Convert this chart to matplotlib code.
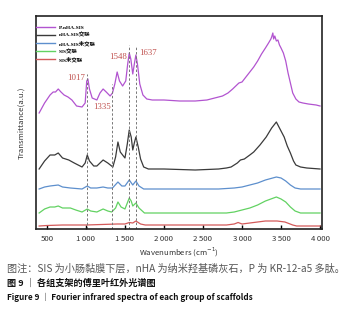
import matplotlib
matplotlib.use("Agg")
import matplotlib.pyplot as plt
from matplotlib.ticker import FixedLocator, FuncFormatter

# ---------------- data ----------------
labels = ["P-nHA-SIS", "nHA-SIS交联", "nHA-SIS未交联", "SIS交联", "SIS未交联"]
colors = ["#b254d0", "#3a3a3a", "#5d8fcd", "#62d262", "#d35a5a"]

w_purple = [400, 470, 540, 580, 610, 645, 680, 720, 770, 820, 880, 950, 990, 1010, 1025, 1045,
            1080, 1140, 1180, 1220, 1260, 1310, 1340, 1370, 1400, 1430, 1470, 1510, 1535, 1555,
            1575, 1600, 1620, 1640, 1660, 1690, 1730, 1780, 1850, 2000, 2200, 2400, 2550, 2650,
            2750, 2820, 2880, 2920, 2960, 3000, 3050, 3100, 3150, 3200, 3250, 3300, 3340, 3370,
            3380, 3395, 3405, 3420, 3440, 3460, 3480, 3500, 3530, 3560, 3590, 3620, 3650, 3690,
            3730, 3780, 3850, 3950, 4000]
v_purple = [116, 126, 134, 137, 137, 140, 137, 134, 132, 129, 123, 122, 126, 148, 150, 140,
            131, 129, 136, 140, 137, 133, 136, 145, 157, 148, 143, 148, 165, 176,
            170, 155, 165, 174, 165, 145, 134, 130, 129, 129, 128, 128, 129, 131,
            133, 136, 140, 143, 146, 147, 152, 157, 162, 168, 175, 181, 186, 190,
            192, 196, 190, 193, 188, 189, 184, 181, 176, 168, 156, 146, 136, 130,
            127, 126, 125, 124, 123]

w_black = [400, 470, 540, 600, 645, 700, 780, 850, 950, 990, 1017, 1045, 1100, 1140, 1220, 1280,
           1345, 1380, 1410, 1440, 1500, 1530, 1555, 1580, 1600, 1620, 1640, 1670, 1700, 1740,
           1800, 2000, 2400, 2700, 2800, 2860, 2940, 2980, 3030, 3100, 3150, 3230, 3310, 3380,
           3420, 3440, 3460, 3500, 3540, 3580, 3620, 3660, 3690, 3750, 3830, 4000]
v_black = [60, 68, 74, 74, 76, 71, 69, 66, 62, 66, 74, 68, 63, 63, 69, 66,
           62, 72, 87, 77, 71, 85, 99, 92, 79, 86, 92, 82, 70, 62,
           60, 60, 59, 60, 61, 62, 66, 69, 70, 74, 77, 84, 92, 101,
           105, 107, 104, 98, 92, 83, 76, 68, 64, 62, 61, 60]

w_blue = [400, 470, 540, 645, 700, 800, 950, 1017, 1060, 1140, 1220, 1280, 1340, 1410, 1460, 1500,
          1555, 1600, 1640, 1680, 1740, 2000, 2700, 2900, 3000, 3100, 3200, 3300, 3440, 3500,
          3560, 3620, 3680, 3750, 4000]
v_blue = [40, 42, 43, 44, 42, 41, 40, 43, 41, 41, 42, 41, 41, 47, 43, 43,
          49, 44, 48, 43, 40, 40, 40, 41, 42, 44, 46, 49, 52, 51,
          48, 44, 41, 40, 40]

w_green = [400, 470, 540, 600, 645, 700, 800, 870, 950, 1017, 1060, 1140, 1220, 1280, 1330, 1380,
           1410, 1450, 1500, 1530, 1555, 1580, 1600, 1640, 1680, 1750, 2000, 2500, 2800, 2900,
           3000, 3100, 3200, 3300, 3440, 3500, 3560, 3620, 3680, 3750, 4000]
v_green = [16, 20, 22, 22, 23, 21, 21, 19, 17, 20, 18, 17, 20, 18, 17, 21,
           27, 22, 20, 26, 31, 28, 23, 26, 21, 16, 16, 16, 16, 17,
           19, 21, 24, 28, 32, 30, 27, 22, 18, 16, 16]

w_red = [400, 500, 700, 1000, 1200, 1400, 1500, 1555, 1600, 1640, 1700, 1760, 2000, 2800, 2900,
         2950, 3000, 3100, 3300, 3450, 3550, 3650, 3700, 4000]
v_red = [3, 3.5, 4, 4, 4.5, 5, 5, 6.5, 6, 8, 5, 4, 4, 4, 5,
         6.5, 5, 6, 8, 8, 7, 4, 3, 3]

series_w = [w_purple, w_black, w_blue, w_green, w_red]
series_v = [v_purple, v_black, v_blue, v_green, v_red]

peaks = [1017, 1335, 1548, 1637]
peak_tops = [155, 145, 184, 183]
xticks = [500, 1000, 1500, 2000, 2500, 3000, 3500, 4000]

caption1 = "图注：SIS 为小肠黏膜下层，nHA 为纳米羟基磷灰石，P 为 KR-12-a5 多肽。"
caption2 = "图 9 ｜ 各组支架的傅里叶红外光谱图"
caption3 = "Figure 9 ｜ Fourier infrared spectra of each group of scaffolds"

# ---------------- figure ----------------
W, H = 348, 311
fig = plt.figure(figsize=(W / 100, H / 100), dpi=100)
ax = fig.add_axes([36 / W, 1 - 229 / H, (322 - 36) / W, (229 - 16) / H])

for w, v, c, lab in zip(series_w, series_v, colors, labels):
    ax.plot(w, v, color=c, lw=0.9, label=lab)

for p, t in zip(peaks, peak_tops):
    ax.plot([p, p], [0, t], color="#777777", lw=0.7, ls=(0, (2.5, 2)))

peak_color = "#c0504d"
label_pos = [(872, 151), (1205, 122), (1410, 172), (1795, 176)]
for p, (lx, ly) in zip(peaks, label_pos):
    ax.text(lx, ly, str(p), color=peak_color, fontsize=6.3, ha="center", va="center",
            family=["Liberation Serif", "DejaVu Serif"])

ax.set_xlim(360, 4025)
ax.set_ylim(0, 213)
ax.set_yticks([])
ax.xaxis.set_major_locator(FixedLocator(xticks))
ax.xaxis.set_major_formatter(FuncFormatter(
    lambda x, pos: f"{int(x):,}".replace(",", "\u2009")))
ax.tick_params(axis="x", direction="in", length=3, width=1, labelsize=5.6, pad=4,
               labelcolor="#333333")
for lab in ax.get_xticklabels():
    lab.set_family(["Noto Sans CJK SC", "DejaVu Sans"])
for s in ax.spines.values():
    s.set_linewidth(1.2)
    s.set_color("#222222")

ax.set_xlabel("Wavenumbers (cm$^{-1}$)", fontsize=5.6, labelpad=2,
              family=["Noto Sans CJK SC", "DejaVu Sans"], color="#333333")
ax.set_ylabel("Transmittance(a.u.)", fontsize=5.6, labelpad=8,
              family=["Noto Sans CJK SC", "DejaVu Sans"], color="#333333")

leg = ax.legend(loc="upper left", bbox_to_anchor=(-0.012, 0.975), frameon=False,
                prop={"family": ["Liberation Serif", "Noto Sans CJK SC"], "weight": "bold",
                      "size": 3.9},
                handlelength=3.4, handletextpad=0.8, labelspacing=0.5, borderaxespad=0.3)
for line in leg.get_lines():
    line.set_linewidth(1.0)

fig.text(7 / W, 1 - 268 / H, caption1, fontsize=7.3, color="#555555", va="center",
         family=["Noto Sans CJK SC", "DejaVu Sans"])
fig.text(7 / W, 1 - 283 / H, caption2, fontsize=6.6, color="#111111", va="center",
         weight="bold", family=["Noto Sans CJK SC", "DejaVu Sans"])
fig.text(7 / W, 1 - 297 / H, caption3, fontsize=5.9, color="#111111", va="center",
         weight="bold", family=["Noto Sans CJK SC", "DejaVu Sans"])

fig.savefig("out.png", dpi=100)
